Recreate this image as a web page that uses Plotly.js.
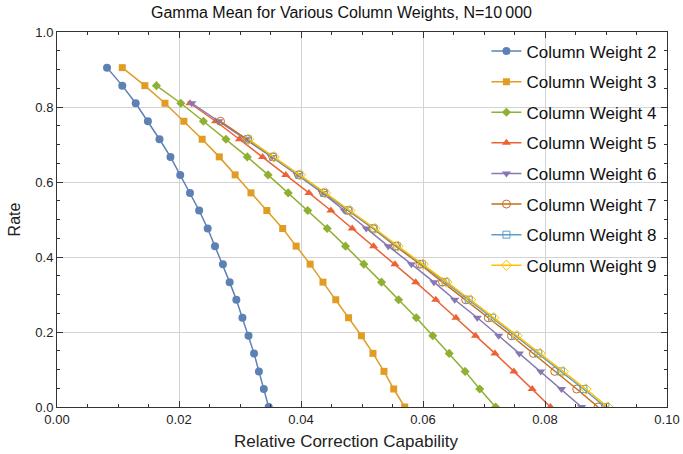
<!DOCTYPE html>
<html>
<head>
<meta charset="utf-8">
<script src="https://cdn.plot.ly/plotly-3.0.1.min.js"></script>
<style>html,body{margin:0;padding:0;background:#fff;}#chart{width:683px;height:454px;}</style>
</head>
<body>
<div id="chart"></div>
<script>
// Rate levels (k/21), shared by all series, from 19/21 down to 0
const rates = [0.905, 0.857, 0.810, 0.762, 0.714, 0.667, 0.619, 0.571, 0.524, 0.476,
               0.429, 0.381, 0.333, 0.286, 0.238, 0.190, 0.143, 0.095, 0.048, 0.000];

const cw2 = [0.0082, 0.0107, 0.0129, 0.0149, 0.0168, 0.0186, 0.0202, 0.0218, 0.0233, 0.0247,
             0.0259, 0.0272, 0.0283, 0.0294, 0.0304, 0.0314, 0.0323, 0.0331, 0.0339, 0.0347];
const cw3 = [0.0107, 0.0144, 0.0177, 0.0208, 0.0238, 0.0266, 0.0292, 0.0318, 0.0344, 0.0370,
             0.0392, 0.0415, 0.0436, 0.0457, 0.0478, 0.0499, 0.0518, 0.0536, 0.0552, 0.0570];
const cw4 = [0.0163, 0.0203, 0.0240, 0.0277, 0.0312, 0.0346, 0.0379, 0.0411, 0.0443, 0.0473,
             0.0503, 0.0532, 0.0560, 0.0589, 0.0616, 0.0643, 0.0669, 0.0693, 0.0719];
const cw5 = [0.0218, 0.0260, 0.0299, 0.0337, 0.0375, 0.0413, 0.0449, 0.0484, 0.0519, 0.0554,
             0.0588, 0.0621, 0.0654, 0.0686, 0.0718, 0.0749, 0.0779, 0.0809];
const cw6 = [0.0221, 0.0265, 0.0310, 0.0352, 0.0394, 0.0435, 0.0471, 0.0507, 0.0543, 0.0581,
             0.0618, 0.0652, 0.0689, 0.0724, 0.0758, 0.0793, 0.0827, 0.0860];
const cw7 = [0.0268, 0.0312, 0.0354, 0.0396, 0.0437, 0.0477, 0.0518, 0.0555, 0.0595, 0.0632,
             0.0670, 0.0707, 0.0745, 0.0781, 0.0816, 0.0852, 0.0887];
const cw8 = [0.0313, 0.0354, 0.0397, 0.0438, 0.0478, 0.0519, 0.0557, 0.0598, 0.0637, 0.0675,
             0.0713, 0.0751, 0.0789, 0.0826, 0.0863, 0.0899];
const cw9 = [0.0314, 0.0356, 0.0399, 0.0440, 0.0480, 0.0521, 0.0559, 0.0600, 0.0639, 0.0678,
             0.0716, 0.0754, 0.0792, 0.0830, 0.0867, 0.0903];

const names = ['Column Weight 2','Column Weight 3','Column Weight 4','Column Weight 5',
               'Column Weight 6','Column Weight 7','Column Weight 8','Column Weight 9'];
const xs = [cw2, cw3, cw4, cw5, cw6, cw7, cw8, cw9];
const colors = ['#5E81B5','#E19C24','#8FB032','#EB6235','#8778B3','#C56E1A','#5D9EC7','#FFBF00'];
const symbols = ['circle','square','diamond','triangle-up','triangle-down','circle-open','square-open','diamond-open'];
const msizes = [8, 7, 7, 8, 8, 8, 7, 8];

const xTickVals = [0, 0.02, 0.04, 0.06, 0.08, 0.10];
const xTickText = ['0.00','0.02','0.04','0.06','0.08','0.10'];
const yTickVals = [0, 0.2, 0.4, 0.6, 0.8, 1.0];
const yTickText = ['0.0','0.2','0.4','0.6','0.8','1.0'];

const FONT = 'Liberation Sans, Arial, sans-serif';

const traces = xs.map((x, i) => ({
  type: 'scatter',
  mode: 'lines+markers',
  name: names[i],
  legendgroup: 'g' + i,
  x: x,
  y: rates.slice(rates.length - x.length),
  line: {color: colors[i], width: 1.5},
  marker: {symbol: symbols[i], size: msizes[i], color: colors[i],
           line: {color: colors[i], width: i >= 5 ? 1 : 0}}
}));

const axisCommon = {
  showline: true, linecolor: '#333', linewidth: 1, mirror: 'allticks',
  ticks: 'inside', ticklen: 6, tickcolor: '#333', tickwidth: 1,
  showgrid: true, gridcolor: '#d3d3d3', gridwidth: 1, zeroline: false,
  tickfont: {family: FONT, size: 13, color: '#222'}
};

const layout = {
  width: 683, height: 454,
  margin: {l: 57, r: 16, t: 32, b: 47},
  paper_bgcolor: '#fff', plot_bgcolor: '#fff',
  font: {family: FONT, color: '#222'},
  title: {text: 'Gamma Mean for Various Column Weights, N=10\u2009000',
          font: {family: FONT, size: 16, color: '#111'},
          x: 0.5, xanchor: 'center', y: 0.972, yanchor: 'middle'},
  xaxis: Object.assign({}, axisCommon, {
    range: [0, 0.10], tickvals: xTickVals, ticktext: xTickText,
    minor: {dtick: 0.005, tick0: 0, ticks: 'inside', ticklen: 3, tickcolor: '#333', showgrid: false}
  }),
  yaxis: Object.assign({}, axisCommon, {
    range: [0, 1.0], tickvals: yTickVals, ticktext: yTickText,
    minor: {dtick: 0.05, tick0: 0, ticks: 'inside', ticklen: 3, tickcolor: '#333', showgrid: false},
    title: {text: 'Rate', standoff: 10, font: {family: FONT, size: 16, color: '#222'}}
  }),
  annotations: [{
    text: 'Relative Correction Capability', xref: 'paper', yref: 'paper',
    x: 0.474, y: -0.0907, xanchor: 'center', yanchor: 'middle', showarrow: false,
    font: {family: FONT, size: 17, color: '#222'}
  }],
  showlegend: true,
  legend: {
    x: 0.704, y: 0.996, xanchor: 'left', yanchor: 'top',
    bgcolor: 'rgba(0,0,0,0)', borderwidth: 0,
    font: {family: FONT, size: 17, color: '#111'},
    tracegroupgap: 5.5, itemwidth: 30
  }
};

Plotly.newPlot('chart', traces, layout, {staticPlot: true, displayModeBar: false});
</script>
</body>
</html>
